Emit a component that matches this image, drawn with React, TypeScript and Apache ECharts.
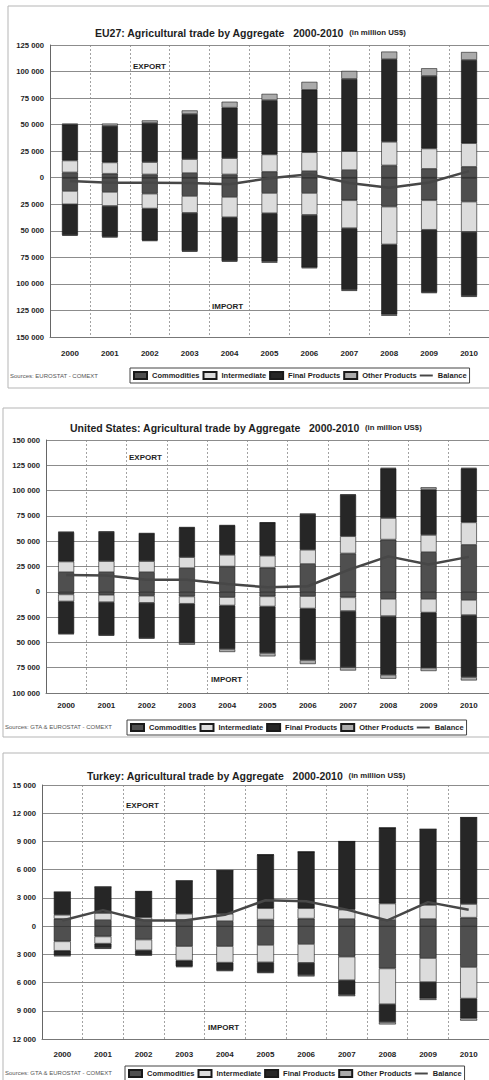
import React, { useEffect, useRef } from "react";
import * as echarts from "echarts";

const years = ["2000", "2001", "2002", "2003", "2004", "2005", "2006", "2007", "2008", "2009", "2010"];
const legendNames = ["Commodities", "Intermediate", "Final Products", "Other Products", "Balance"];

// EU27 (million US$)
const euExpCommodities = [5000, 3800, 3100, 4400, 3100, 5600, 6200, 7200, 11600, 8400, 10300];
const euExpIntermediate = [11200, 10600, 11600, 13100, 15300, 16300, 17800, 17800, 22200, 19100, 22200];
const euExpFinal = [33800, 34400, 36800, 42500, 47600, 51200, 58800, 68100, 77800, 68400, 78400];
const euExpOther = [1000, 2200, 2500, 3400, 5600, 5900, 7500, 7500, 7200, 7200, 7500];
const euImpCommodities = [12500, 13400, 15000, 17200, 18100, 14400, 14400, 21250, 27200, 21250, 22500];
const euImpIntermediate = [12500, 13200, 14000, 15900, 19100, 19000, 20600, 26250, 35600, 27750, 28500];
const euImpFinal = [29000, 29000, 30000, 35900, 41200, 45600, 49400, 58100, 65950, 58800, 60250];
const euImpOther = [500, 600, 600, 600, 600, 1000, 900, 1000, 1250, 950, 950];
const euBalance = [-3100, -4700, -4700, -5000, -6200, -500, 3200, -5000, -9500, -4500, 6200];

// United States
const usExpCommodities = [19400, 19400, 19400, 23400, 25000, 23900, 27500, 37900, 51600, 39200, 46400];
const usExpIntermediate = [10500, 10900, 10900, 10800, 11500, 11700, 14000, 17000, 21300, 17000, 22200];
const usExpFinal = [29000, 28900, 27300, 29300, 29000, 32700, 35300, 40900, 48800, 44800, 53100];
const usExpOther = [300, 300, 300, 300, 300, 300, 300, 300, 800, 2300, 800];
const usImpCommodities = [2600, 3000, 3900, 4600, 5300, 4500, 4300, 5500, 7000, 7000, 8000];
const usImpIntermediate = [6900, 7200, 7000, 7200, 8200, 10000, 12200, 13500, 17000, 13500, 15000];
const usImpFinal = [31900, 32600, 34800, 38500, 43100, 46000, 51000, 55500, 58000, 54500, 61300];
const usImpOther = [400, 400, 400, 2000, 2900, 3300, 3900, 3300, 3900, 3300, 3300];
const usBalance = [16500, 16000, 12000, 12000, 7700, 4500, 5500, 21500, 35000, 27000, 34500];

// Turkey
const trExpCommodities = [780, 640, 640, 640, 530, 700, 800, 750, 650, 750, 900];
const trExpIntermediate = [420, 750, 280, 670, 780, 1200, 1100, 1000, 1750, 1500, 1450];
const trExpFinal = [2420, 2780, 2770, 3510, 4610, 5700, 6000, 7250, 8050, 8050, 9200];
const trExpOther = [0, 0, 0, 0, 0, 0, 0, 0, 0, 0, 0];
const trImpCommodities = [1620, 1100, 1430, 2130, 2130, 2000, 1900, 3250, 4500, 3400, 4350];
const trImpIntermediate = [1000, 760, 1140, 1530, 1750, 1850, 2000, 2500, 3800, 2550, 3350];
const trImpFinal = [480, 460, 470, 620, 810, 1050, 1300, 1550, 1900, 1750, 2100];
const trImpOther = [120, 100, 100, 80, 100, 100, 150, 150, 250, 150, 250];
const trBalance = [600, 1700, 600, 600, 1200, 2750, 2650, 1750, 600, 2550, 1750];

const FONT = "Liberation Sans, Arial, sans-serif";
const COLORS = ["#4f4f4f", "#dcdcdc", "#262626", "#ababab"];
const TEXT = "#1e1e1e";

function fmt(v: number) {
  return Math.abs(v).toString().replace(/\B(?=(\d{3})+(?!\d))/g, " ");
}

function buildSeries(idx: number, exp: number[][], imp: number[][], bal: number[], barWidth: number) {
  const out: any[] = [];
  const names = legendNames.slice(0, 4);
  names.forEach((n, i) => {
    out.push({
      type: "bar", name: n, stack: "s" + idx, xAxisIndex: idx, yAxisIndex: idx,
      data: exp[i], barWidth,
      itemStyle: { color: COLORS[i], borderColor: "#1a1a1a", borderWidth: 0.6 },
    });
  });
  names.forEach((n, i) => {
    out.push({
      type: "bar", name: n, stack: "s" + idx, xAxisIndex: idx, yAxisIndex: idx,
      data: imp[i].map((v) => -v), barWidth,
      itemStyle: { color: COLORS[i], borderColor: "#1a1a1a", borderWidth: 0.6 },
    });
  });
  out.push({
    type: "line", name: "Balance", xAxisIndex: idx, yAxisIndex: idx, data: bal,
    symbol: "none", showSymbol: false, z: 5,
    lineStyle: { color: "#474747", width: 2.5 }, itemStyle: { color: "#474747" },
  });
  return out;
}

const grids = [
  { left: 50, top: 45, width: 439, height: 292 },
  { left: 46, top: 440, width: 446, height: 253 },
  { left: 42, top: 785, width: 452, height: 254 },
];
const yRanges = [
  { min: -150000, max: 125000, interval: 25000 },
  { min: -100000, max: 150000, interval: 25000 },
  { min: -12000, max: 15000, interval: 3000 },
];
const xLabelMargins = [12, 8, 11];
const titles = [
  { main: "EU27: Agricultural trade by Aggregate   2000-2010", left: 95, top: 23.5 },
  { main: "United States: Agricultural trade by Aggregate   2000-2010", left: 70, top: 418.5 },
  { main: "Turkey: Agricultural trade by Aggregate   2000-2010", left: 87, top: 766.5 },
];
const legendPos = [
  { left: 130, top: 368 },
  { left: 127, top: 720 },
  { left: 125, top: 1066 },
];
const sources = [
  { text: "Sources: EUROSTAT - COMEXT", x: 10, y: 376 },
  { text: "Sources: GTA & EUROSTAT - COMEXT", x: 5, y: 727 },
  { text: "Sources: GTA & EUROSTAT - COMEXT", x: 5, y: 1073 },
];
const tags = [
  { text: "EXPORT", x: 133, y: 66 }, { text: "IMPORT", x: 212, y: 306 },
  { text: "EXPORT", x: 129, y: 457 }, { text: "IMPORT", x: 211, y: 679 },
  { text: "EXPORT", x: 126, y: 805 }, { text: "IMPORT", x: 208, y: 1027 },
];
const panels = [
  { x: 8, y: 6, w: 490, h: 382 },
  { x: 3, y: 408, w: 495, h: 329 },
  { x: 3, y: 753, w: 495, h: 340 },
];

export default function App() {
  const ref = useRef<HTMLDivElement>(null);
  useEffect(() => {
    if (!ref.current) return;
    const chart = echarts.init(ref.current, undefined, { renderer: "svg" });
    const series = [
      ...buildSeries(0,
        [euExpCommodities, euExpIntermediate, euExpFinal, euExpOther],
        [euImpCommodities, euImpIntermediate, euImpFinal, euImpOther], euBalance, 16),
      ...buildSeries(1,
        [usExpCommodities, usExpIntermediate, usExpFinal, usExpOther],
        [usImpCommodities, usImpIntermediate, usImpFinal, usImpOther], usBalance, 16),
      ...buildSeries(2,
        [trExpCommodities, trExpIntermediate, trExpFinal, trExpOther],
        [trImpCommodities, trImpIntermediate, trImpFinal, trImpOther], trBalance, 17),
    ];
    const legendData = legendNames.map((n) =>
      n === "Balance"
        ? { name: n, icon: "path://M0 0 H40 V6 H0 Z", itemStyle: { color: "#474747", borderWidth: 0 } }
        : { name: n, icon: "rect" }
    );
    const option: any = {
      animation: false,
      backgroundColor: "#ffffff",
      title: titles.map((t) => ({
        text: "{a|" + t.main + "} {b|(in million US$)}",
        left: t.left, top: t.top, padding: 0,
        textStyle: {
          rich: {
            a: { fontSize: 10.5, fontWeight: "bold", fontFamily: FONT, color: TEXT, lineHeight: 13 },
            b: { fontSize: 7.8, fontWeight: "bold", fontFamily: FONT, color: TEXT, lineHeight: 13 },
          },
        },
      })),
      grid: grids,
      xAxis: grids.map((_, i) => ({
        type: "category", gridIndex: i, data: years,
        axisLine: { show: true, onZero: false, lineStyle: { color: "#777" } },
        axisTick: { show: false },
        axisLabel: { fontSize: 8, fontWeight: "bold", fontFamily: FONT, color: TEXT, margin: xLabelMargins[i], interval: 0 },
        splitLine: { show: true, interval: 0, lineStyle: { type: [2, 2], color: "#8a8a8a", width: 0.8 } },
      })),
      yAxis: grids.map((_, i) => ({
        type: "value", gridIndex: i, ...yRanges[i],
        axisLine: { show: true, lineStyle: { color: "#666" } },
        axisTick: { show: false },
        axisLabel: { fontSize: 7.7, fontWeight: "bold", fontFamily: FONT, color: TEXT, margin: 6, formatter: fmt },
        splitLine: { show: true, lineStyle: { color: "#8c8c8c", width: 1 } },
      })),
      legend: legendPos.map((p) => ({
        data: legendData, left: p.left, top: p.top, orient: "horizontal",
        itemWidth: 13, itemHeight: 7, itemGap: 3, padding: [3, 3],
        borderColor: "#444", borderWidth: 1, selectedMode: false,
        textStyle: { fontSize: 7.5, fontWeight: "bold", fontFamily: FONT, color: TEXT },
      })),
      graphic: [
        ...panels.map((p) => ({
          type: "rect", silent: true, z: -10,
          shape: { x: p.x, y: p.y, width: p.w, height: p.h },
          style: { fill: "none", stroke: "#b5b5b5", lineWidth: 1 },
        })),
        ...sources.map((s) => ({
          type: "text", x: s.x, y: s.y, silent: true,
          style: { text: s.text, fontSize: 6, fontFamily: FONT, fill: "#555", textVerticalAlign: "middle" },
        })),
        ...tags.map((s) => ({
          type: "text", x: s.x, y: s.y, silent: true, z: 20,
          style: { text: s.text, fontSize: 8, fontWeight: "bold", fontFamily: FONT, fill: TEXT, textVerticalAlign: "middle" },
        })),
      ],
      series,
    };
    chart.setOption(option);
    return () => chart.dispose();
  }, []);
  return (
    <div
      ref={ref}
      style={{ position: "absolute", left: 0, top: 0, width: 489, height: 1080, background: "#fff" }}
    />
  );
}
